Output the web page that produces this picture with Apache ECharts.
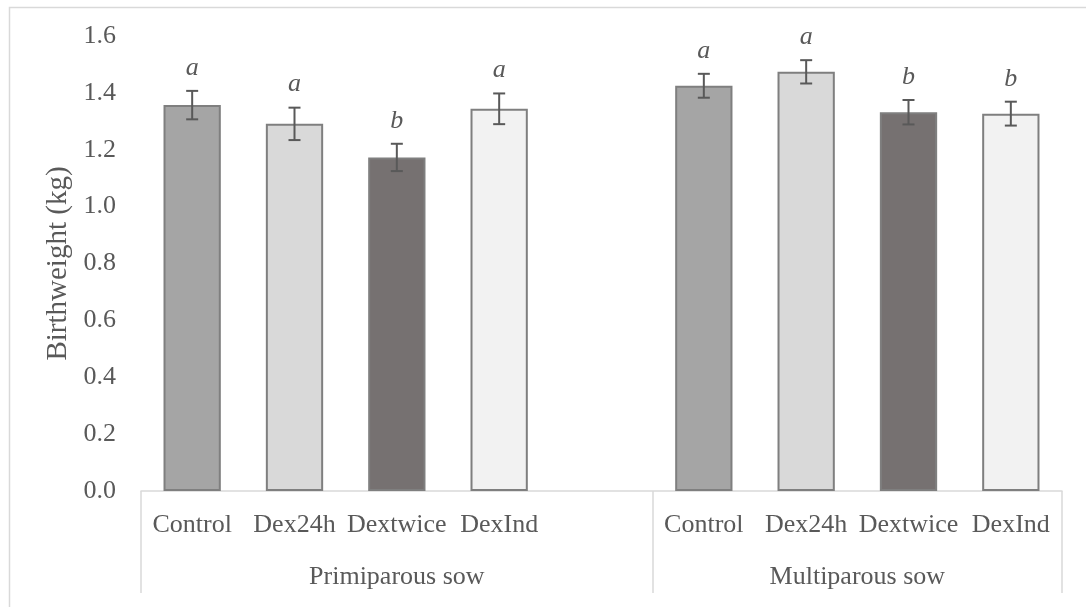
<!DOCTYPE html>
<html>
<head>
<meta charset="utf-8">
<script src="https://cdn.jsdelivr.net/npm/echarts@6/dist/echarts.min.js"></script>
<style>
html,body{margin:0;padding:0;background:#fff;}
#chart{width:1086px;height:607px;}
</style>
</head>
<body>
<div id="chart"></div>
<script>
// ---- data ----
const treatments = ['Control', 'Dex24h', 'Dextwice', 'DexInd'];
const groups = ['Primiparous sow', 'Multiparous sow'];
const primiMeans = [1.357, 1.291, 1.173, 1.344];
const primiErr = [0.050, 0.057, 0.048, 0.054];
const primiLetters = ['a', 'a', 'b', 'a'];
const multiMeans = [1.425, 1.474, 1.332, 1.327];
const multiErr = [0.042, 0.041, 0.043, 0.042];
const multiLetters = ['a', 'a', 'b', 'b'];
const yMin = 0, yMax = 1.6, yStep = 0.2;

// ---- styles ----
const barColors = ['#a5a5a5', '#d9d9d9', '#767171', '#f2f2f2'];
const textColor = '#595959';
const lineColor = '#d9d9d9';
const FONT = '"Liberation Serif", "Times New Roman", serif';

// build 9 slots: 4 + spacer + 4
const cats = treatments.concat(['']).concat(treatments);
const barData = [];
const errData = [];
treatments.forEach((t, i) => {
  barData.push({ value: primiMeans[i], itemStyle: { color: barColors[i] } });
  errData.push([i, primiMeans[i], primiErr[i], primiLetters[i]]);
});
barData.push('-');
treatments.forEach((t, i) => {
  barData.push({ value: multiMeans[i], itemStyle: { color: barColors[i] } });
  errData.push([i + 5, multiMeans[i], multiErr[i], multiLetters[i]]);
});
const nSlots = cats.length;
const groupCenters = [2.5, 7];
const groupBounds = [0, 5, 9];

const chart = echarts.init(document.getElementById('chart'));
chart.setOption({
  backgroundColor: '#fff',
  animation: false,
  textStyle: { fontFamily: FONT, color: textColor },
  graphic: [{
    type: 'rect', left: 7, top: 5, silent: true,
    shape: { width: 1100, height: 601 },
    style: { fill: 'none', stroke: lineColor, lineWidth: 1.5 }
  }],
  grid: { left: 141, right: 24, top: 36, bottom: 116 },
  xAxis: [{
    type: 'category',
    data: cats,
    axisLine: { show: true, lineStyle: { color: lineColor, width: 1.5 } },
    axisTick: { show: false },
    axisLabel: { interval: 0, margin: 21, fontSize: 26, color: textColor, fontFamily: FONT }
  }, {
    type: 'value',
    min: 0, max: nSlots,
    position: 'bottom',
    axisLine: { show: false },
    splitLine: { show: false },
    axisTick: { show: true, customValues: groupBounds, length: 102, lineStyle: { color: lineColor, width: 1.5 } },
    axisLabel: {
      customValues: groupCenters, margin: 73, fontSize: 26, color: textColor, fontFamily: FONT,
      formatter: v => (v === groupCenters[0] ? groups[0] : groups[1])
    }
  }],
  yAxis: {
    type: 'value', min: yMin, max: yMax, interval: yStep,
    name: 'Birthweight (kg)', nameLocation: 'middle', nameGap: 63,
    nameTextStyle: { fontSize: 29, color: textColor, fontFamily: FONT },
    axisLine: { show: false }, axisTick: { show: false }, splitLine: { show: false },
    axisLabel: { margin: 25, fontSize: 26, color: textColor, fontFamily: FONT, formatter: v => v.toFixed(1) }
  },
  series: [{
    type: 'bar',
    data: barData,
    barCategoryGap: '44%',
    itemStyle: { borderColor: '#7f7f7f', borderWidth: 2 }
  }, {
    type: 'custom',
    data: errData,
    z: 10,
    renderItem: function (params, api) {
      const x = api.value(0), m = api.value(1), e = api.value(2);
      const top = api.coord([x, m + e]);
      const bot = api.coord([x, m - e]);
      const hw = 6;
      const st = { stroke: '#595959', lineWidth: 2 };
      const letter = errData[params.dataIndex][3];
      return {
        type: 'group',
        children: [
          { type: 'line', shape: { x1: top[0], y1: top[1], x2: bot[0], y2: bot[1] }, style: st },
          { type: 'line', shape: { x1: top[0] - hw, y1: top[1], x2: top[0] + hw, y2: top[1] }, style: st },
          { type: 'line', shape: { x1: bot[0] - hw, y1: bot[1], x2: bot[0] + hw, y2: bot[1] }, style: st },
          { type: 'text', style: {
              x: top[0], y: top[1] - 10, text: letter,
              align: 'center', verticalAlign: 'bottom',
              font: 'italic 26px ' + FONT, fill: textColor
          } }
        ]
      };
    }
  }]
});
</script>
</body>
</html>
